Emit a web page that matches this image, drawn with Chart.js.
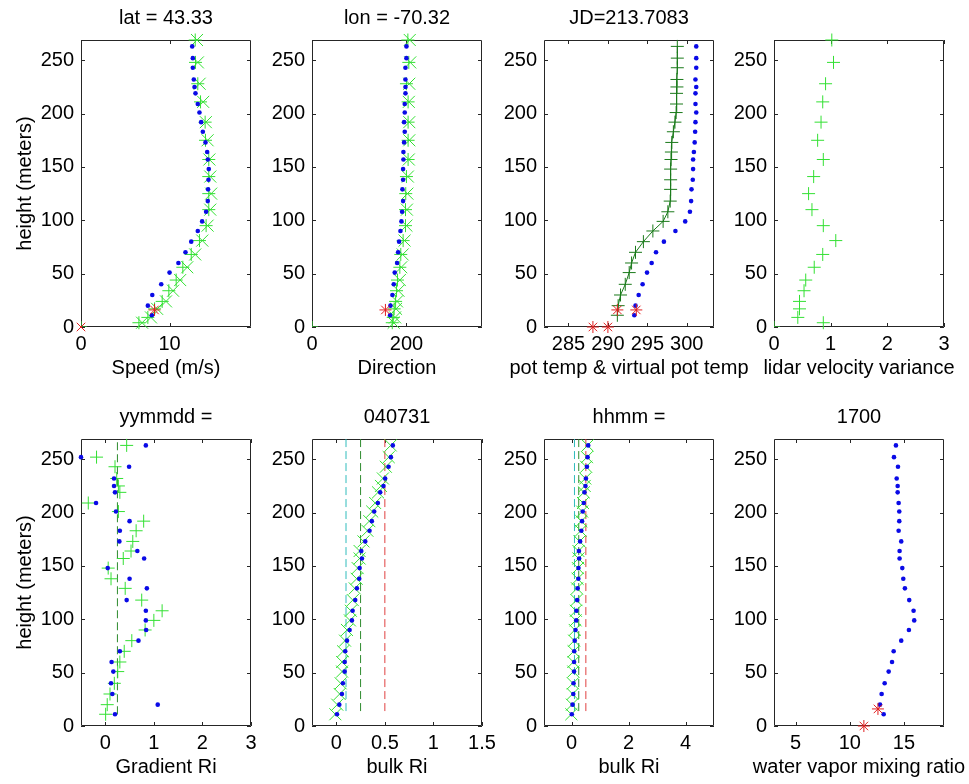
<!DOCTYPE html>
<html>
<head>
<meta charset="utf-8">
<script src="https://cdn.jsdelivr.net/npm/chart.js@4.4.1/dist/chart.umd.min.js"></script>
<style>
  html, body { margin: 0; padding: 0; background: #fff; overflow: hidden; }
  #fig { position: relative; width: 969px; height: 784px; }
  #fig canvas { position: absolute; }
</style>
</head>
<body>
<div id="fig"></div>
<script>
// heights (m) of the profile levels, the lidar gates and the tower
const profHeights = [11, 20, 30, 40, 51, 60, 70, 80, 90, 99, 108, 118, 129, 138, 148, 157, 164, 173, 183, 192, 201, 209, 219, 225, 232, 243, 252, 263];
const lidarHeights = [4, 9, 17, 24, 34, 44, 56, 68, 81, 95, 110, 125, 141, 157, 175, 192, 211, 228, 248, 269];
const towerHeights = [0, 16];
const yTicks = [0, 50, 100, 150, 200, 250];

// speed (m/s)
const speedProf = [8.0, 7.55, 8.05, 9.06, 10.0, 11.0, 11.8, 12.45, 13.19, 13.68, 14.13, 14.32, 14.35, 14.4, 14.43, 14.32, 14.25, 14.06, 13.76, 13.57, 13.38, 13.19, 12.93, 12.82, 12.74, 12.63, 12.63, 12.56];
const speedLidar = [6.54, 7.55, 8.31, 9.17, 9.92, 10.75, 11.5, 12.45, 13.38, 14.13, 14.43, 14.43, 14.43, 14.43, 14.06, 14.02, 13.5, 13.19, 12.93, 12.9];
const speedLidar2 = [6.9, 7.9, 8.6, 9.6, 10.4, 11.2, 12.0, 12.9, 13.7, 14.3, 14.6, 14.7, 14.6, 14.5, 14.3, 14.1, 13.8, 13.4, 13.2, 13.1];
const speedTower = [0, 8.3];

// direction (deg)
const dirProf = [165.4, 166.1, 170.3, 173.1, 175.2, 180.2, 182.3, 184.4, 187.3, 189.4, 190.8, 192.9, 191.5, 192.9, 192.9, 193.6, 193.6, 195, 196.4, 195, 196.4, 196.4, 197.9, 197.9, 197.9, 197.9, 200, 200];
const dirLidar = [170, 172, 174, 177, 179, 181, 186, 188, 193, 198, 198, 198.5, 200, 203.5, 203.5, 203.5, 203.5, 200, 205, 203];
const dirLidar2 = [173, 176, 178, 180, 183, 186, 189, 192, 196, 200, 201, 202, 203, 205, 206, 206, 205, 206, 208, 207];
const dirTower = [155.5];

// potential temperature & virtual potential temperature (K)
const thetaProf = [291.2, 291.3, 291.6, 292.2, 292.7, 293.0, 293.5, 294.5, 295.7, 297.0, 297.6, 297.9, 297.95, 297.95, 297.95, 298.0, 298.05, 298.1, 298.3, 298.5, 298.65, 298.7, 298.7, 298.75, 298.75, 298.8, 298.8, 298.8];
const thetaVProf = [293.35, 293.5, 293.9, 294.4, 294.96, 295.55, 296.1, 297.1, 298.56, 299.8, 300.4, 300.55, 300.6, 300.76, 300.8, 300.8, 300.9, 301.0, 301.06, 301.1, 301.2, 301.1, 301.1, 301.2, 301.1, 301.2, 301.2, 301.2];
const thetaTower = [288.1, 291.2];
const thetaVTower = [290.0, 293.6];

// lidar velocity variance
const varLidar = [0.87, 0.42, 0.45, 0.45, 0.53, 0.56, 0.71, 0.86, 1.09, 0.87, 0.67, 0.61, 0.70, 0.87, 0.77, 0.83, 0.86, 0.91, 1.05, 1.02];

// gradient Richardson number
const gradRi = [0.2, 1.08, 0.145, 0.118, 0.166, 0.13, 0.30, 0.683, 0.842, 0.835, 0.835, 0.44, 0.856, 0.5, 0.05, 0.80, 0.66, 0.29, 0.30, 0.5, 0.22, -0.19, 0.2, 0.18, 0.18, 0.49, -0.5, 0.835];
const gradRi2 = [0.007, 0.04, 0.097, 0.186, 0.256, 0.3, 0.39, 0.546, 0.82, 1.0, 1.17, 0.75, 0.41, 0.118, 0.06, 0.37, 0.53, 0.566, 0.635, 0.79, 0.27, -0.35, 0.3, 0.27, 0.235, 0.2, -0.18, 0.44];

// bulk Richardson number
const bulkRi = [0.007, 0.031, 0.058, 0.068, 0.086, 0.086, 0.092, 0.11, 0.137, 0.161, 0.168, 0.195, 0.212, 0.236, 0.24, 0.264, 0.257, 0.298, 0.342, 0.366, 0.39, 0.428, 0.452, 0.486, 0.503, 0.538, 0.562, 0.582];
const bulkRi2 = [-0.01, 0.01, 0.035, 0.045, 0.06, 0.06, 0.07, 0.09, 0.11, 0.14, 0.15, 0.17, 0.19, 0.21, 0.22, 0.24, 0.24, 0.28, 0.32, 0.34, 0.37, 0.40, 0.43, 0.46, 0.48, 0.51, 0.54, 0.56];
const riCrit = [0.1, 0.25, 0.5];
const riLineHeights = [14, 269];
const gradRiLineHeights = [11, 269];

// water vapour mixing ratio (g/kg)
const mixProf = [13.13, 12.79, 12.94, 13.22, 13.59, 13.9, 14.05, 14.75, 15.46, 15.95, 15.89, 15.49, 15.09, 14.94, 14.85, 14.6, 14.6, 14.75, 14.51, 14.57, 14.57, 14.51, 14.42, 14.42, 14.33, 14.45, 14.08, 14.26];
const mixTower = [11.3, 12.6];

const FONT = "'Liberation Sans', Arial, Helvetica, sans-serif";
const BLUE = '#0a0ae6', GREEN = '#33e033', DKGREEN = '#1a7a1a', RED = '#e02020';

function pairs(xs, hs) { return xs.map((v, i) => ({ x: v, y: hs[i] })); }

function dots(xs, hs) {
  return { data: pairs(xs, hs), pointStyle: 'circle', pointRadius: 2.3, backgroundColor: BLUE, borderWidth: 0, clip: false };
}
function marks(xs, hs, style, color, r) {
  return { data: pairs(xs, hs), pointStyle: style, pointRadius: r, borderColor: color, backgroundColor: color, borderWidth: 1, clip: false };
}
function vline(v, hs, color) {
  return { data: [{ x: v, y: hs[0] }, { x: v, y: hs[1] }], showLine: true, borderDash: [8, 4], borderColor: color, borderWidth: 1, pointRadius: 0, clip: false };
}
// small green mark at the origin, clipped by the box
function origin() {
  return { data: [{ x: 0, y: 0 }], pointStyle: 'cross', pointRadius: 6, borderColor: GREEN, borderWidth: 1, clip: 0 };
}

// draws the matlab-like box, inward ticks, titles and labels
const matlabAxes = {
  id: 'matlabAxes',
  beforeDatasetsDraw(chart) {
    const { ctx, chartArea: a, scales: { x, y } } = chart;
    ctx.save();
    ctx.strokeStyle = '#262626';
    ctx.lineWidth = 1;
    ctx.beginPath();
    ctx.rect(a.left + 0.5, a.top + 0.5, a.width - 1, a.height - 1);
    x.ticks.forEach(t => {
      const px = Math.round(x.getPixelForValue(t.value)) + 0.5;
      ctx.moveTo(px, a.bottom); ctx.lineTo(px, a.bottom - 4);
      ctx.moveTo(px, a.top); ctx.lineTo(px, a.top + 4);
    });
    y.ticks.forEach(t => {
      const py = Math.round(y.getPixelForValue(t.value)) + 0.5;
      ctx.moveTo(a.left, py); ctx.lineTo(a.left + 4, py);
      ctx.moveTo(a.right, py); ctx.lineTo(a.right - 4, py);
    });
    ctx.stroke();
    ctx.restore();
  },
  afterDraw(chart, args, opts) {
    const { ctx, chartArea: a } = chart;
    const cx = (a.left + a.right) / 2;
    ctx.save();
    ctx.fillStyle = '#000';
    ctx.font = '20px ' + FONT;
    ctx.textAlign = 'center';
    ctx.textBaseline = 'middle';
    if (opts.title) ctx.fillText(opts.title, cx, a.top - 22);
    if (opts.xlabel) ctx.fillText(opts.xlabel, cx, a.bottom + 41);
    if (opts.ylabel) {
      ctx.translate(a.left - 56, (a.top + a.bottom) / 2);
      ctx.rotate(-Math.PI / 2);
      ctx.fillText(opts.ylabel, 0, 0);
    }
    ctx.restore();
  }
};

const colLeft = [0, 231, 463, 693];
const rowTop = [0, 399];
const fig = document.getElementById('fig');

function makePanel(col, row, p) {
  const cv = document.createElement('canvas');
  cv.width = 300; cv.height = 385;
  cv.style.left = colLeft[col] + 'px';
  cv.style.top = rowTop[row] + 'px';
  fig.appendChild(cv);
  const tickFont = { family: FONT, size: 20 };
  const noGrid = { display: false, drawTicks: false, tickLength: 0 };
  new Chart(cv, {
    type: 'scatter',
    data: { datasets: p.datasets },
    options: {
      responsive: false,
      animation: false,
      events: [],
      layout: { padding: { top: 40, right: 49, bottom: 0, left: 0 } },
      plugins: {
        legend: { display: false },
        tooltip: { enabled: false },
        matlabAxes: { title: p.title, xlabel: p.xlabel, ylabel: p.ylabel }
      },
      scales: {
        x: {
          type: 'linear', min: p.xmin, max: p.xmax,
          grid: noGrid, border: { display: false },
          ticks: { color: '#000', font: tickFont, padding: 5, autoSkip: false, maxRotation: 0, minRotation: 0, callback: v => String(v) },
          afterBuildTicks: s => { s.ticks = p.xticks.map(v => ({ value: v })); },
          afterFit: s => { s.height = 58; }
        },
        y: {
          type: 'linear', min: 0, max: 269,
          grid: noGrid, border: { display: false },
          ticks: { color: '#000', font: tickFont, padding: 7, autoSkip: false, callback: v => String(v) },
          afterBuildTicks: s => { s.ticks = yTicks.map(v => ({ value: v })); },
          afterFit: s => { s.width = 81; }
        }
      }
    },
    plugins: [matlabAxes]
  });
}

// top row
makePanel(0, 0, {
  title: 'lat = 43.33', xlabel: 'Speed (m/s)', ylabel: 'height (meters)',
  xmin: 0, xmax: 19.2, xticks: [0, 10],
  datasets: [
    Object.assign(marks(speedTower, towerHeights, 'star', RED, 6), { pointStyle: ['crossRot', 'star'] }),
    dots(speedProf, profHeights),
    marks(speedLidar, lidarHeights, 'cross', GREEN, 6.5),
    marks(speedLidar2, lidarHeights, 'crossRot', GREEN, 8.5),
    origin()
  ]
});
makePanel(1, 0, {
  title: 'lon = -70.32', xlabel: 'Direction',
  xmin: 0, xmax: 360, xticks: [0, 200],
  datasets: [
    marks(dirTower, towerHeights.slice(1), 'star', RED, 6),
    dots(dirProf, profHeights),
    marks(dirLidar, lidarHeights, 'cross', GREEN, 6.5),
    marks(dirLidar2, lidarHeights, 'crossRot', GREEN, 8.5),
    origin()
  ]
});
makePanel(2, 0, {
  title: 'JD=213.7083', xlabel: 'pot temp & virtual pot temp',
  xmin: 281.9, xmax: 303.45, xticks: [285, 290, 295, 300],
  datasets: [
    marks(thetaTower, towerHeights, 'star', RED, 6),
    marks(thetaVTower, towerHeights, 'star', RED, 6),
    dots(thetaVProf, profHeights),
    Object.assign(marks(thetaProf, profHeights, 'cross', DKGREEN, 6.5), { showLine: true })
  ]
});
makePanel(3, 0, {
  xlabel: 'lidar velocity variance',
  xmin: 0, xmax: 3, xticks: [0, 1, 2, 3],
  datasets: [
    marks(varLidar, lidarHeights, 'cross', GREEN, 6.5),
    origin()
  ]
});

// bottom row
makePanel(0, 1, {
  title: 'yymmdd =', xlabel: 'Gradient Ri', ylabel: 'height (meters)',
  xmin: -0.5, xmax: 3, xticks: [0, 1, 2, 3],
  datasets: [
    dots(gradRi, profHeights),
    marks(gradRi2, profHeights, 'cross', GREEN, 6.5),
    vline(riCrit[1], gradRiLineHeights, '#2e8b2e')
  ]
});
const riPanel = (title, xmin, xmax, xticks) => ({
  title, xlabel: 'bulk Ri', xmin, xmax, xticks,
  datasets: [
    dots(bulkRi, profHeights),
    marks(bulkRi2, profHeights, 'crossRot', GREEN, 8.5),
    vline(riCrit[0], riLineHeights, '#30bcbc'),
    vline(riCrit[1], riLineHeights, '#2e8b2e'),
    vline(riCrit[2], riLineHeights, '#e04040')
  ]
});
makePanel(1, 1, riPanel('040731', -0.25, 1.5, [0, 0.5, 1, 1.5]));
makePanel(2, 1, riPanel('hhmm =', -0.97, 5, [0, 2, 4]));
makePanel(3, 1, {
  title: '1700', xlabel: 'water vapor mixing ratio',
  xmin: 3, xmax: 18.7, xticks: [5, 10, 15],
  datasets: [
    marks(mixTower, towerHeights, 'star', RED, 6),
    dots(mixProf, profHeights)
  ]
});
</script>
</body>
</html>
